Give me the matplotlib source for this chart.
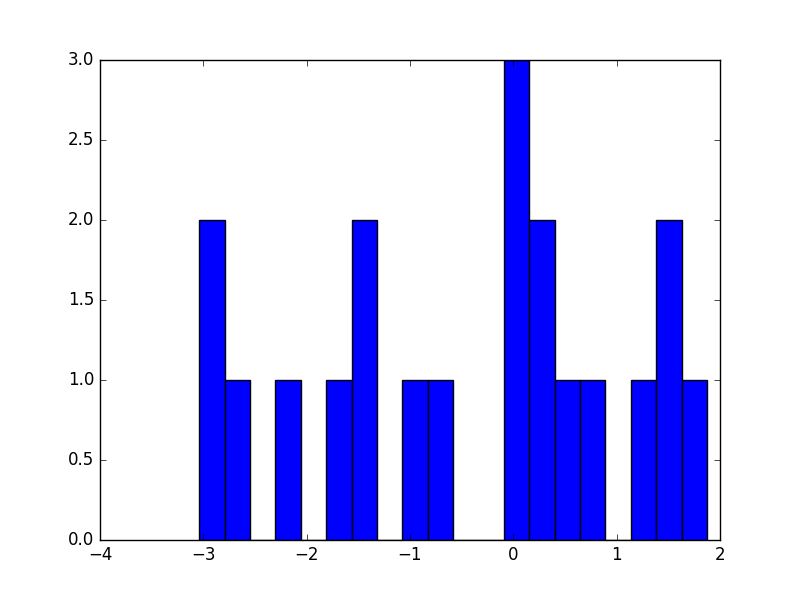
import numpy as np
import matplotlib
matplotlib.use("Agg")
import matplotlib.pyplot as plt

plt.style.use("classic")

# histogram: 20 bins between these limits
bin_lo = -3.04
bin_hi = 1.874
counts = [2, 1, 0, 1, 0, 1, 2, 0, 1, 1, 0, 0, 3, 2, 1, 1, 0, 1, 2, 1]

edges = np.linspace(bin_lo, bin_hi, len(counts) + 1)
centers = (edges[:-1] + edges[1:]) / 2

fig, ax = plt.subplots(figsize=(8, 6), dpi=100)
ax.hist(centers, bins=edges, weights=counts, color="blue")
ax.set_xlim(-4, 2)
ax.set_ylim(0, 3)
fig.savefig("out.png", dpi=100)
